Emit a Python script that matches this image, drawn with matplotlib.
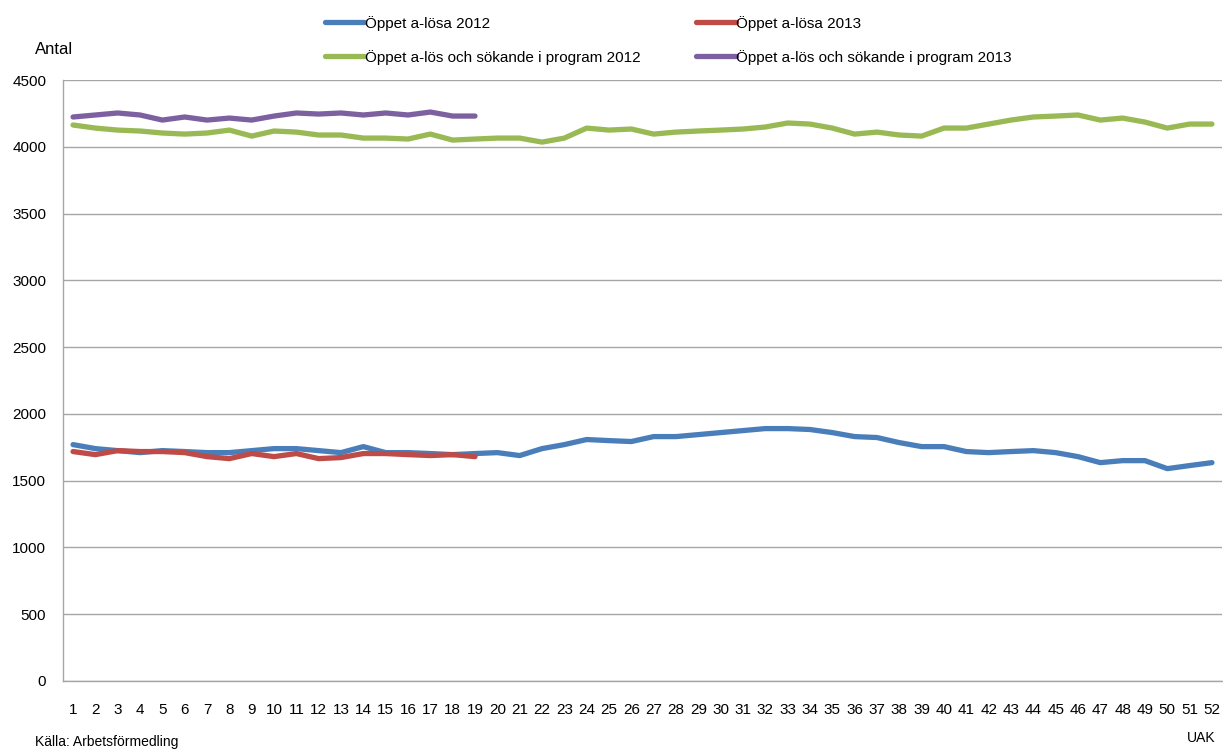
import matplotlib
matplotlib.use("Agg")
import matplotlib.pyplot as plt

plt.rcParams['font.family'] = ['Liberation Sans', 'DejaVu Sans']

weeks = list(range(1, 53))
week_labels = [str(w) for w in weeks]

open_2012 = [1770, 1740, 1725, 1710, 1725, 1718, 1710, 1710, 1725, 1740,
             1740, 1725, 1710, 1755, 1710, 1710, 1703, 1695, 1703, 1710,
             1688, 1740, 1770, 1808, 1800, 1793, 1830, 1830, 1845, 1860,
             1875, 1890, 1890, 1883, 1860, 1830, 1823, 1785, 1755, 1755,
             1718, 1710, 1718, 1725, 1710, 1680, 1635, 1650, 1650, 1590,
             1613, 1635]
open_2013 = [1718, 1695, 1725, 1718, 1718, 1710, 1680, 1665, 1703, 1680,
             1703, 1665, 1673, 1703, 1703, 1695, 1688, 1695, 1680]
prog_2012 = [4163, 4140, 4125, 4118, 4103, 4095, 4103, 4125, 4080, 4118,
             4110, 4088, 4088, 4065, 4065, 4058, 4095, 4050, 4058, 4065,
             4065, 4035, 4065, 4140, 4125, 4133, 4095, 4110, 4118, 4125,
             4133, 4148, 4178, 4170, 4140, 4095, 4110, 4088, 4080, 4140,
             4140, 4170, 4200, 4223, 4230, 4238, 4200, 4215, 4185, 4140,
             4170, 4170]
prog_2013 = [4223, 4238, 4253, 4238, 4200, 4223, 4200, 4215, 4200, 4230,
             4253, 4245, 4253, 4238, 4253, 4238, 4260, 4230, 4230]

labels = ["Öppet a-lösa 2012", "Öppet a-lösa 2013",
          "Öppet a-lös och sökande i program 2012",
          "Öppet a-lös och sökande i program 2013"]
colors = ["#4A7EBB", "#BE4B48", "#98B954", "#7D60A0"]

fig = plt.figure(figsize=(12.23, 7.49), dpi=100)
ax = fig.add_axes([63/1223, 1-681/749, 1159/1223, (681-80)/749])

lw = 3.8
kw = dict(lw=lw, solid_joinstyle='round', solid_capstyle='round')
l1, = ax.plot(weeks, open_2012, color=colors[0], zorder=3, **kw)
l2, = ax.plot(weeks[:len(open_2013)], open_2013, color=colors[1], zorder=4, **kw)
l3, = ax.plot(weeks, prog_2012, color=colors[2], zorder=3, **kw)
l4, = ax.plot(weeks[:len(prog_2013)], prog_2013, color=colors[3], zorder=4, **kw)

ax.set_xlim(0.55, 52.45)
ax.set_ylim(0, 4500)
ax.set_yticks(range(0, 4501, 500))
ax.set_xticks(weeks)
ax.set_xticklabels(week_labels)
ax.tick_params(axis='both', length=0, labelsize=11, colors='black')
ax.tick_params(axis='x', pad=16)
ax.tick_params(axis='y', pad=12)
ax.grid(axis='y', color='#A6A6A6', lw=1)
ax.set_axisbelow(True)
for s in ['top', 'right']:
    ax.spines[s].set_visible(False)
for s in ['left', 'bottom']:
    ax.spines[s].set_color('#A6A6A6')
    ax.spines[s].set_linewidth(1)

fig.legend([l1, l3, l2, l4], [labels[0], labels[2], labels[1], labels[3]],
           ncol=2, loc='upper left', bbox_to_anchor=(311/1223, 1-2/749),
           frameon=False, fontsize=11, handlelength=2.6, handletextpad=0.05,
           columnspacing=3.6, labelspacing=1.25)

fig.text(35/1223, 1-50/749, "Antal", fontsize=12, va='center', ha='left')
fig.text(35/1223, 1-742/749, "Källa: Arbetsförmedling", fontsize=10, va='center', ha='left')
fig.text(1187/1223, 1-738/749, "UAK", fontsize=10, va='center', ha='left')

fig.savefig("out.png", dpi=100)
